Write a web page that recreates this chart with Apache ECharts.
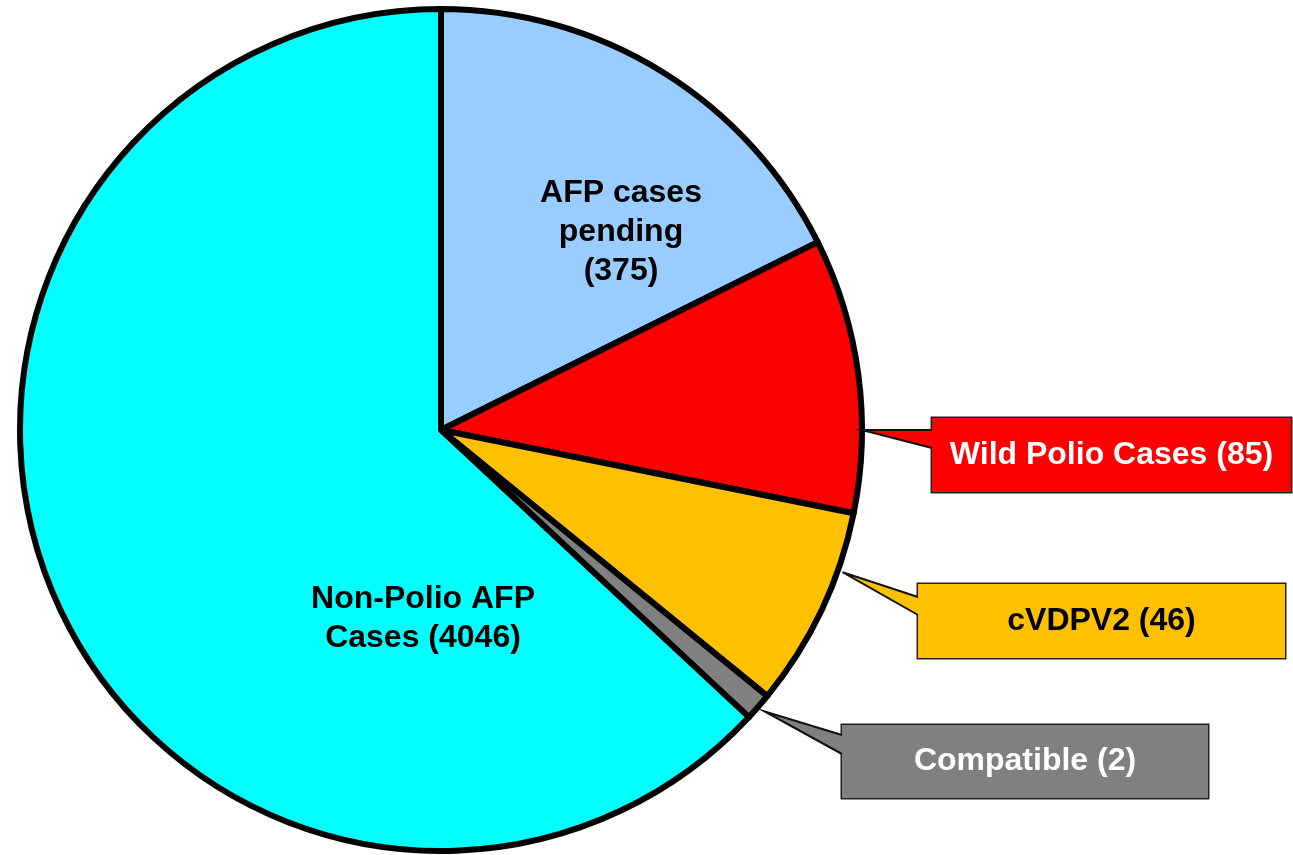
<!DOCTYPE html>
<html>
<head>
<meta charset="utf-8">
<style>
  html, body { margin: 0; padding: 0; background: #fff; }
  #chart { width: 1293px; height: 855px; }
</style>
<script src="https://cdn.jsdelivr.net/npm/echarts@6/dist/echarts.min.js"></script>
</head>
<body>
<div id="chart"></div>
<script>
// categories, counts shown in labels, and slice shares (degrees)
const categories = ["AFP cases pending", "Wild Polio Cases", "cVDPV2", "Compatible", "Non-Polio AFP Cases"];
const counts = [375, 85, 46, 2, 4046];
const shares = [63.5, 37.9, 27.8, 3.8, 227.0];
const labelTexts = [
  "AFP cases\npending\n(" + counts[0] + ")",
  "Wild Polio Cases (" + counts[1] + ")",
  "cVDPV2 (" + counts[2] + ")",
  "Compatible (" + counts[3] + ")",
  "Non-Polio AFP\nCases (" + counts[4] + ")"
];

const colors = ["#99CCFF", "#FF0000", "#FFC000", "#808080", "#00FFFF"];
const textColors = ["#000", "#fff", "#000", "#fff", "#000"];

const cx = 441, cy = 430, radius = 421;

// label positions: inside labels by centre, callouts by box [x, y, w, h]
const insidePos = { 0: [621, 232], 4: [423, 619] };
const callouts = {
  1: { box: [932, 418, 359, 74], base: [430, 448], tipAngle: 90.0, tipR: 421 },
  2: { box: [918, 584, 367, 74], base: [597, 615], tipAngle: 109.5, tipR: 426 },
  3: { box: [842, 725, 366, 73], base: [735, 754], tipAngle: 131.0, tipR: 429 }
};

const chart = echarts.init(document.getElementById("chart"));

const data = categories.map((name, i) => {
  const item = {
    name: name,
    value: shares[i],
    itemStyle: { color: colors[i] },
    label: { color: textColors[i] }
  };
  const c = callouts[i];
  if (c) {
    item.label = {
      color: textColors[i],
      backgroundColor: colors[i],
      borderColor: "#222",
      borderWidth: 1.5,
      padding: [6, 0, 0, 0],
      width: c.box[2],
      height: c.box[3] - 6,
      lineHeight: c.box[3] - 6,
      align: "center",
      verticalAlign: "middle"
    };
  }
  return item;
});

// callout pointers (wedges) joining the label boxes to the pie rim
const graphics = [];
Object.keys(callouts).forEach(k => {
  const c = callouts[k];
  const i = +k;
  const a = c.tipAngle * Math.PI / 180;
  const tip = [cx + c.tipR * Math.sin(a), cy - c.tipR * Math.cos(a)];
  const bx = c.box[0];
  graphics.push({
    type: "polygon",
    z: 100,
    shape: { points: [tip, [bx, c.base[0]], [bx + 3, c.base[0]], [bx + 3, c.base[1]], [bx, c.base[1]]] },
    style: { fill: colors[i] }
  });
  graphics.push({
    type: "polyline",
    z: 101,
    shape: { points: [[bx, c.base[0]], tip, [bx, c.base[1]]] },
    style: { stroke: "#111", lineWidth: 2, fill: null }
  });
});

chart.setOption({
  animation: false,
  backgroundColor: "#fff",
  graphic: graphics,
  series: [
    {
      type: "pie",
      center: [cx, cy],
      radius: radius,
      startAngle: 90,
      clockwise: true,
      avoidLabelOverlap: false,
      silent: true,
      itemStyle: {
        borderColor: "#000",
        borderWidth: 6,
        borderJoin: "round"
      },
      label: {
        show: true,
        position: "inside",
        formatter: p => labelTexts[p.dataIndex],
        fontFamily: "Liberation Sans, Arial, sans-serif",
        fontWeight: "bold",
        fontSize: 32,
        lineHeight: 39,
        align: "center"
      },
      labelLine: { show: false },
      labelLayout: function (params) {
        const i = params.dataIndex;
        if (insidePos[i]) {
          return { x: insidePos[i][0], y: insidePos[i][1], align: "center", verticalAlign: "middle" };
        }
        const b = callouts[i].box;
        return { x: b[0] + b[2] / 2, y: b[1] + b[3] / 2, align: "center", verticalAlign: "middle" };
      },
      data: data
    }
  ]
});
</script>
</body>
</html>
